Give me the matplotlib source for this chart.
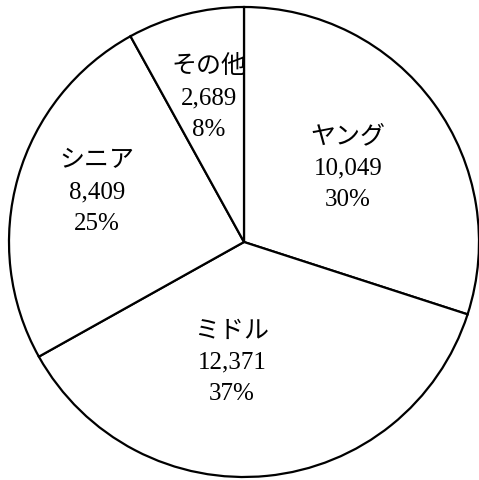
# This program draws a pie chart of members by age group.
import matplotlib.pyplot as plt

# Age groups and head counts, clockwise from the top.
groups = ['ヤング', 'ミドル', 'シニア', 'その他']
counts = [10049, 12371, 8409, 2689]

# Where each label block sits, in units of the pie radius.
label_xy = [(0.443, 0.318), (-0.051, -0.510), (-0.626, 0.215), (-0.149, 0.617)]


def main():
    fig = plt.figure(figsize=(4.79, 4.81), dpi=100)
    ax = fig.add_axes([9 / 479, 3 / 481, 470 / 479, 470 / 481])

    # White slices with black borders, starting at twelve o'clock.
    ax.pie(counts, startangle=90, counterclock=False, radius=1,
           wedgeprops=dict(facecolor='white', edgecolor='black',
                           linewidth=1.6))

    # Name, count and share for each slice.
    total = sum(counts)
    for name, n, (x, y) in zip(groups, counts, label_xy):
        text = f'{name}\n{n:,}\n{n / total * 100:.0f}%'
        ax.text(x, y, text, ha='center', va='center', fontsize=18,
                linespacing=1.55,
                family=['Liberation Serif', 'Noto Sans CJK JP'])

    ax.set_xlim(-1, 1)
    ax.set_ylim(-1, 1)
    ax.set_aspect('equal')
    ax.axis('off')

    fig.savefig('out.png', dpi=100)


if __name__ == '__main__':
    main()
